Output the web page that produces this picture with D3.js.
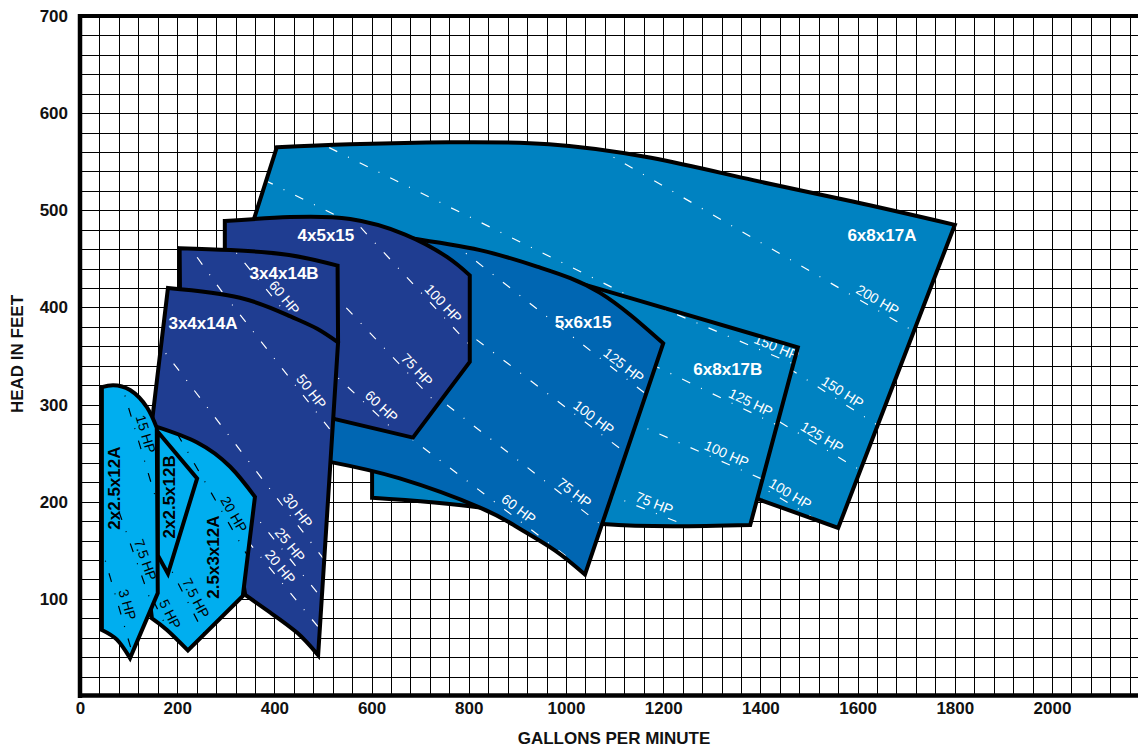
<!DOCTYPE html>
<html>
<head>
<meta charset="utf-8">
<script src="https://cdn.jsdelivr.net/npm/d3@7"></script>
<style>
  body { margin: 0; background: #fff; }
  text { font-family: "Liberation Sans", Arial, sans-serif; }
</style>
</head>
<body>
<div id="chart"></div>
<script>
// tick labels
var xTicks = [0, 200, 400, 600, 800, 1000, 1200, 1400, 1600, 1800, 2000];
var yTicks = [100, 200, 300, 400, 500, 600, 700];

// pump outlines in [GPM, feet]; runs of 3+ points are curved edges
var outline6x8x17A = [
  [[405,565],[555,568],[760,570],[965,568],[1175,554],[1385,531],[1590,509],[1800,485]],
  [[1800,485],[1560,173]],
  [[1560,173],[1399,202]],
  [[1399,202],[1276,233]],
  [[1276,233],[864,325]],
  [[864,325],[453,408]],
  [[453,408],[344,469]],
  [[344,469],[405,565]]
];
var outline6x8x17B = [
  [[601,204],[601,305]],
  [[601,305],[700,418]],
  [[700,418],[864,436]],
  [[864,436],[1035,424]],
  [[1035,424],[1477,359]],
  [[1477,359],[1379,176]],
  [[1379,176],[1076,177],[823,194],[601,204]]
];
var outline5x6x15 = [
  [[669,472],[823,459],[947,441],[1070,415],[1200,363]],
  [[1200,363],[1039,125]],
  [[1039,125],[977,150],[899,174],[823,194],[658,224],[514,241]],
  [[514,241],[453,243]],
  [[453,243],[453,408]],
  [[453,408],[617,469]],
  [[617,469],[669,472]]
];
var outline4x5x15 = [
  [[298,489],[432,493],[556,491],[669,475],[755,452],[802,433]],
  [[802,433],[802,344]],
  [[802,344],[685,266]],
  [[685,266],[525,285]],
  [[525,285],[453,305]],
  [[453,305],[298,408]],
  [[298,408],[298,489]]
];
var outline3x4x14B = [
  [[205,461],[310,459],[430,454],[530,443]],
  [[530,443],[531,364]],
  [[531,364],[470,340]],
  [[470,340],[206,400]],
  [[206,400],[205,461]]
];
var outline3x4x14A = [
  [[181,420],[329,410],[432,391],[488,378],[531,364]],
  [[531,364],[490,42]],
  [[490,42],[447,65],[391,86],[340,104]],
  [[340,104],[309,202]],
  [[309,202],[144,265]],
  [[144,265],[181,420]]
];
var outline25x3x12A = [
  [[158,277],[241,261],[309,236],[360,205]],
  [[360,205],[335,103]],
  [[335,103],[222,47]],
  [[222,47],[179,68],[148,80]],
  [[148,80],[123,181]],
  [[123,181],[144,274]],
  [[144,274],[158,277]]
];
var outline2x25x12B = [
  [[160,272],[241,224]],
  [[241,224],[181,126]],
  [[181,126],[160,145]],
  [[160,145],[160,272]]
];
var outline2x25x12A = [
  [[45,318],[68,320],[103,315],[138,297],[158,276]],
  [[158,276],[160,106]],
  [[160,106],[103,39]],
  [[103,39],[76,58],[45,68]],
  [[45,68],[45,318]]
];

var pumpNames = ["6x8x17A","6x8x17B","5x6x15","4x5x15","3x4x14B","3x4x14A","2.5x3x12A","2x2.5x12B","2x2.5x12A"];
var pumpOutlines = [outline6x8x17A, outline6x8x17B, outline5x6x15, outline4x5x15, outline3x4x14B,
                    outline3x4x14A, outline25x3x12A, outline2x25x12B, outline2x25x12A];
var pumpNameAt = [[1650,474],[1333,336],[1035,385],[506,474],[420,435],[253,383],[274,143],[185,205],[72,214]];

// horsepower lines: pump, from, to, label, label position along the line
var hpLines = [
  ["6x8x17A", [450,580], [1300,370], "", 0],
  ["6x8x17A", [380,531], [700,452], "", 0],
  ["6x8x17A", [1000,583], [1800,351], "200 HP", 0.79],
  ["6x8x17A", [1400,356], [1700,260], "150 HP", 0.53],
  ["6x8x17A", [1380,300], [1700,204], "125 HP", 0.43],
  ["6x8x17A", [1380,222], [1620,150], "100 HP", 0.30],
  ["6x8x17B", [1100,420], [1500,335], "150 HP", 0.815],
  ["6x8x17B", [1050,372], [1500,263], "125 HP", 0.716],
  ["6x8x17B", [1000,312], [1450,213], "100 HP", 0.718],
  ["6x8x17B", [950,235], [1400,145], "75 HP", 0.50],
  ["5x6x15", [760,469], [1200,297], "125 HP", 0.79],
  ["5x6x15", [760,388], [1200,221], "100 HP", 0.65],
  ["5x6x15", [700,321], [1150,146], "75 HP", 0.68],
  ["5x6x15", [650,277], [1000,144], "60 HP", 0.69],
  ["4x5x15", [530,508], [830,346], "100 HP", 0.68],
  ["4x5x15", [500,425], [800,266], "75 HP", 0.60],
  ["4x5x15", [500,342], [720,239], "60 HP", 0.49],
  ["3x4x14B", [250,500], [540,323], "60 HP", 0.54],
  ["3x4x14B", [200,480], [330,390], "", 0],
  ["3x4x14A", [200,475], [540,258], "50 HP", 0.77],
  ["3x4x14A", [150,370], [500,142], "30 HP", 0.81],
  ["3x4x14A", [300,223], [500,99], "25 HP", 0.59],
  ["3x4x14A", [300,187], [500,65], "20 HP", 0.49],
  ["2.5x3x12A", [200,270], [360,131], "20 HP", 0.63],
  ["2.5x3x12A", [170,147], [270,50], "7.5 HP", 0.52],
  ["2.5x3x12A", [120,129], [200,49], "5 HP", 0.61],
  ["2x2.5x12A", [80,330], [170,180], "15 HP", 0.42],
  ["2x2.5x12A", [80,190], [165,70], "7.5 HP", 0.44],
  ["2x2.5x12A", [40,160], [120,23], "3 HP", 0.50]
];

var fillOf = {
  "6x8x17A": "#0082c1", "6x8x17B": "#0082c1", "5x6x15": "#0066b2",
  "4x5x15": "#1f3d91", "3x4x14B": "#1f3d91", "3x4x14A": "#1f3d91",
  "2.5x3x12A": "#00aeef", "2x2.5x12B": "#00aeef", "2x2.5x12A": "#00aeef"
};

var W = 1138, H = 748;

var x = d3.scaleLinear().domain([0, 2200]).range([80, 1149.2]);
var y = d3.scaleLinear().domain([0, 700]).range([696, 16]);

var svg = d3.select("#chart").append("svg")
    .attr("width", W)
    .attr("height", H)
    .style("background-color", "#fff");

// grid
svg.append("g")
    .attr("transform", "translate(0," + y(0) + ")")
    .call(d3.axisBottom(x).tickValues(d3.range(40, 2201, 40)).tickSize(-(y(0) - y(700))).tickFormat(""))
    .call(function(g){ g.select(".domain").remove(); })
    .selectAll("line").attr("stroke", "#000").attr("shape-rendering", "crispEdges");

svg.append("g")
    .attr("transform", "translate(" + x(0) + ",0)")
    .call(d3.axisLeft(y).tickValues(d3.range(20, 700, 20)).tickSize(-(W - x(0))).tickFormat(""))
    .call(function(g){ g.select(".domain").remove(); })
    .selectAll("line").attr("stroke", "#000").attr("shape-rendering", "crispEdges");

// pump regions
var seg = d3.line()
    .x(function(d){ return x(d[0]); })
    .y(function(d){ return y(d[1]); })
    .curve(d3.curveNatural);

function outline(runs) {
  return runs.map(function(r, i){
    var s = seg(r);
    return i ? s.replace(/^M/, "L") : s;
  }).join("") + "Z";
}

var defs = svg.append("defs");
var regions = svg.append("g");

pumpNames.forEach(function(name, i){
  var d = outline(pumpOutlines[i]);
  var light = name.indexOf("x12") >= 0;
  var ink = light ? "#000" : "#fff";

  defs.append("clipPath").attr("id", "clip" + i).append("path").attr("d", d);

  var g = regions.append("g");
  g.append("path").attr("d", d).attr("fill", fillOf[name]);

  var lg = g.append("g").attr("clip-path", "url(#clip" + i + ")");
  var tg = g.append("g");

  hpLines.filter(function(l){ return l[0] === name; }).forEach(function(l){
    var x1 = x(l[1][0]), y1 = y(l[1][1]), x2 = x(l[2][0]), y2 = y(l[2][1]);
    lg.append("line")
        .attr("x1", x1).attr("y1", y1).attr("x2", x2).attr("y2", y2)
        .attr("stroke", ink)
        .attr("stroke-width", 1.2)
        .attr("stroke-dasharray", "9,12,1,12");
    if (l[3]) {
      var px = x1 + (x2 - x1) * l[4], py = y1 + (y2 - y1) * l[4];
      var ang = Math.atan2(y2 - y1, x2 - x1) * 180 / Math.PI;
      tg.append("text")
          .attr("transform", "translate(" + px + "," + py + ") rotate(" + ang + ")")
          .attr("dy", -4)
          .attr("text-anchor", "middle")
          .attr("font-size", 14)
          .attr("fill", ink)
          .text(l[3]);
    }
  });

  g.append("path").attr("d", d)
      .attr("fill", "none")
      .attr("stroke", "#000")
      .attr("stroke-width", 4)
      .attr("stroke-linejoin", "miter")
      .attr("stroke-miterlimit", 3);

  var nx = x(pumpNameAt[i][0]), ny = y(pumpNameAt[i][1]);
  g.append("text")
      .attr("transform", "translate(" + nx + "," + ny + ")" + (light ? " rotate(-90)" : ""))
      .attr("text-anchor", "middle")
      .attr("dominant-baseline", "central")
      .attr("font-size", 17)
      .attr("font-weight", "bold")
      .attr("fill", ink)
      .text(name);
});

// frame
svg.append("line").attr("x1", x(0)).attr("x2", x(0)).attr("y1", 14).attr("y2", 698)
    .attr("stroke", "#000").attr("stroke-width", 4.5);
svg.append("line").attr("x1", 78).attr("x2", W).attr("y1", y(700)).attr("y2", y(700))
    .attr("stroke", "#000").attr("stroke-width", 4);
svg.append("line").attr("x1", 78).attr("x2", W).attr("y1", 695.5).attr("y2", 695.5)
    .attr("stroke", "#000").attr("stroke-width", 4.5);

// tick labels
svg.append("g")
    .attr("transform", "translate(0," + y(0) + ")")
    .call(d3.axisBottom(x).tickValues(xTicks).tickSize(0).tickPadding(6).tickFormat(d3.format("d")))
    .call(function(g){ g.select(".domain").remove(); })
    .selectAll("text")
      .attr("font-size", 17).attr("font-weight", "bold").attr("fill", "#111")
      .attr("font-family", "Liberation Sans, Arial, sans-serif");

svg.append("g")
    .attr("transform", "translate(" + x(0) + ",0)")
    .call(d3.axisLeft(y).tickValues(yTicks).tickSize(0).tickPadding(12).tickFormat(d3.format("d")))
    .call(function(g){ g.select(".domain").remove(); })
    .selectAll("text")
      .attr("font-size", 17).attr("font-weight", "bold").attr("fill", "#111")
      .attr("font-family", "Liberation Sans, Arial, sans-serif");

// axis titles
svg.append("text")
    .attr("x", 614).attr("y", 738)
    .attr("text-anchor", "middle")
    .attr("dominant-baseline", "central")
    .attr("font-size", 17).attr("font-weight", "bold").attr("fill", "#111")
    .text("GALLONS PER MINUTE");

svg.append("text")
    .attr("transform", "translate(17,354) rotate(-90)")
    .attr("text-anchor", "middle")
    .attr("dominant-baseline", "central")
    .attr("font-size", 17).attr("font-weight", "bold").attr("fill", "#111")
    .text("HEAD IN FEET");
</script>
</body>
</html>
